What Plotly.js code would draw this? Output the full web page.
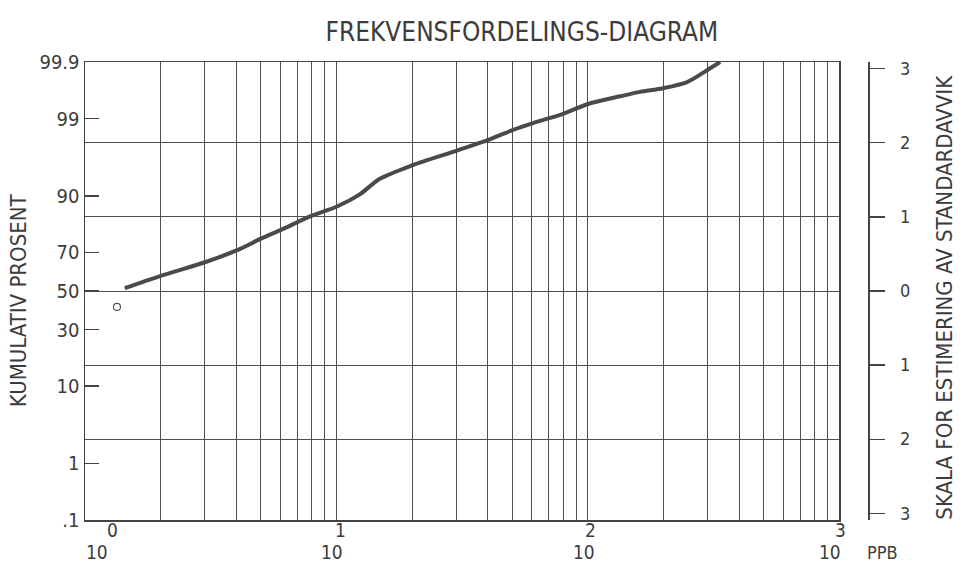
<!DOCTYPE html>
<html>
<head>
<meta charset="utf-8">
<script src="https://cdn.plot.ly/plotly-3.0.1.min.js"></script>
<style>html,body{margin:0;padding:0;background:#fff;}#chart{width:970px;height:570px;}</style>
</head>
<body>
<div id="chart"></div>
<script>
// ---- data ----
var ppb = [1.44, 1.99, 3.0, 4.03, 5.06, 6.08, 7.86, 10.06, 12.4, 14.9, 20.0, 30.2, 40.2, 50.5, 60.6, 79.8, 100.4, 134.6, 161.6, 199.5, 248.7, 298.6, 336.5];
var cumPercent = [51.6, 58.0, 65.1, 70.9, 76.2, 79.7, 84.3, 87.3, 90.4, 93.5, 95.5, 97.1, 97.93, 98.52, 98.83, 99.16, 99.42, 99.57, 99.64, 99.69, 99.76, 99.856, 99.90];
var strayPpb = [1.34];
var strayPercent = [41.5];

var percentTicks = [99.9, 99, 90, 70, 50, 30, 10, 1, 0.1];
var percentTickText = ['99.9', '99', '90', '70', '50', '30', '10', '1', '.1'];
var sdTicks = [3, 2, 1, 0, -1, -2, -3];
var sdTickText = ['3', '2', '1', '0', '1', '2', '3'];
var sdGrid = [2, 1, 0, -1, -2];
var decades = [1, 10, 100, 1000];
var decadeBase = '10';
var decadeExponent = ['0', '1', '2', '3'];
var exponentShift = [27, 4, 3, 1];
var baseShift = [12, -4, -4, -9];

// inverse standard normal CDF (Acklam)
function probit(p) {
  var a = [-3.969683028665376e+01, 2.209460984245205e+02, -2.759285104469687e+02, 1.383577518672690e+02, -3.066479806614716e+01, 2.506628277459239e+00];
  var b = [-5.447609879822406e+01, 1.615858368580409e+02, -1.556989798598866e+02, 6.680131188771972e+01, -1.328068155288572e+01];
  var c = [-7.784894002430293e-03, -3.223964580411365e-01, -2.400758277161838e+00, -2.549732539343734e+00, 4.374664141464968e+00, 2.938163982698783e+00];
  var d = [7.784695709041462e-03, 3.224671290700398e-01, 2.445134137142996e+00, 3.754408661907416e+00];
  var pl = 0.02425, q, r;
  if (p < pl) {
    q = Math.sqrt(-2 * Math.log(p));
    return (((((c[0]*q+c[1])*q+c[2])*q+c[3])*q+c[4])*q+c[5]) / ((((d[0]*q+d[1])*q+d[2])*q+d[3])*q+1);
  } else if (p <= 1 - pl) {
    q = p - 0.5; r = q*q;
    return (((((a[0]*r+a[1])*r+a[2])*r+a[3])*r+a[4])*r+a[5])*q / (((((b[0]*r+b[1])*r+b[2])*r+b[3])*r+b[4])*r+1);
  } else {
    q = Math.sqrt(-2 * Math.log(1 - p));
    return -(((((c[0]*q+c[1])*q+c[2])*q+c[3])*q+c[4])*q+c[5]) / ((((d[0]*q+d[1])*q+d[2])*q+d[3])*q+1);
  }
}
function toZ(pct) { return probit(pct / 100); }

var xTickVals = [];
for (var i = 0; i < 3; i++) {
  for (var m = 1; m <= 9; m++) xTickVals.push(decades[i] * m);
}
xTickVals.push(decades[3]);

var zMax = toZ(99.9) + 0.0005;
var yRange = [-zMax, zMax];

var FONT = 'Liberation Sans Narrow, DejaVu Sans Condensed, Arial Narrow, sans-serif';
var INK = '#3c3c3c';
var GRID = '#505050';

var traces = [
  {
    x: ppb, y: cumPercent.map(toZ), xaxis: 'x', yaxis: 'y',
    type: 'scatter', mode: 'lines',
    line: {color: '#4a4a4a', width: 4, shape: 'spline', smoothing: 0.8},
    hoverinfo: 'skip', showlegend: false
  },
  {
    x: strayPpb, y: strayPercent.map(toZ), xaxis: 'x', yaxis: 'y',
    type: 'scatter', mode: 'markers',
    marker: {symbol: 'circle-open', size: 7, color: '#555', line: {width: 1.2, color: '#555'}},
    hoverinfo: 'skip', showlegend: false
  },
  {x: [10], y: [0], xaxis: 'x', yaxis: 'y2', type: 'scatter', mode: 'markers', marker: {opacity: 0}, hoverinfo: 'skip', showlegend: false},
  {x: [10], y: [0], xaxis: 'x', yaxis: 'y3', type: 'scatter', mode: 'markers', marker: {opacity: 0}, hoverinfo: 'skip', showlegend: false}
];

var annotations = [
  {text: 'PPB', xref: 'paper', yref: 'paper', x: 1.019, y: -0.07, xanchor: 'center', yanchor: 'middle', showarrow: false, font: {family: FONT, size: 18, color: INK}},
  {text: 'KUMULATIV PROSENT', xref: 'paper', yref: 'paper', x: -0.0856, y: 0.48, xanchor: 'center', yanchor: 'middle', textangle: -90, showarrow: false, font: {family: FONT, size: 22, color: INK}},
  {text: 'SKALA FOR ESTIMERING AV STANDARDAVVIK', xref: 'paper', yref: 'paper', x: 1.098, y: 0.487, xanchor: 'center', yanchor: 'middle', textangle: -90, showarrow: false, font: {family: FONT, size: 22, color: INK}}
];
for (var k = 0; k < decades.length; k++) {
  annotations.push({text: decadeExponent[k], xref: 'x', yref: 'paper', x: Math.log10(decades[k]), y: -0.0218, xshift: exponentShift[k], xanchor: 'center', yanchor: 'middle', showarrow: false, font: {family: FONT, size: 19, color: INK}});
  annotations.push({text: decadeBase, xref: 'x', yref: 'paper', x: Math.log10(decades[k]), y: -0.07, xshift: baseShift[k], xanchor: 'center', yanchor: 'middle', showarrow: false, font: {family: FONT, size: 19, color: INK}});
}

var layout = {
  width: 970, height: 570,
  paper_bgcolor: '#fff', plot_bgcolor: '#fff',
  margin: {l: 85, r: 102, t: 62, b: 50},
  font: {family: FONT, color: INK, size: 19},
  title: {
    text: 'FREKVENSFORDELINGS-DIAGRAM',
    font: {family: FONT, size: 26, color: INK},
    x: 0.538, xref: 'container', xanchor: 'center',
    y: 0.944, yref: 'container', yanchor: 'middle'
  },
  xaxis: {
    type: 'log', range: [0, 3], domain: [0, 0.963],
    tickmode: 'array', tickvals: xTickVals, showticklabels: false,
    ticks: '', showgrid: true, gridcolor: GRID, gridwidth: 1,
    showline: true, linecolor: '#444', linewidth: 1.5, mirror: true,
    zeroline: false
  },
  yaxis: {
    range: yRange, tickmode: 'array',
    tickvals: percentTicks.map(toZ), ticktext: percentTickText,
    ticks: 'inside', ticklen: 14, tickcolor: '#444', tickwidth: 1.2,
    showgrid: false, zeroline: false,
    showline: true, linecolor: '#444', linewidth: 1.5, mirror: true,
    tickfont: {family: FONT, size: 20, color: INK}
  },
  yaxis3: {
    range: yRange, overlaying: 'y', anchor: 'x', side: 'left',
    tickmode: 'array', tickvals: sdGrid, showticklabels: false, ticks: '',
    showgrid: true, gridcolor: GRID, gridwidth: 1, zeroline: false, showline: false
  },
  yaxis2: {
    range: yRange, overlaying: 'y', anchor: 'free', position: 1, side: 'right',
    tickmode: 'array', tickvals: sdTicks, ticktext: sdTickText,
    ticks: 'outside', ticklen: 15, tickcolor: '#444', tickwidth: 1.2,
    ticklabelstandoff: 12,
    showgrid: false, zeroline: false,
    showline: true, linecolor: '#444', linewidth: 1.5,
    tickfont: {family: FONT, size: 18, color: INK}
  },
  annotations: annotations,
  showlegend: false
};

Plotly.newPlot('chart', traces, layout, {staticPlot: true, displayModeBar: false});
</script>
</body>
</html>
